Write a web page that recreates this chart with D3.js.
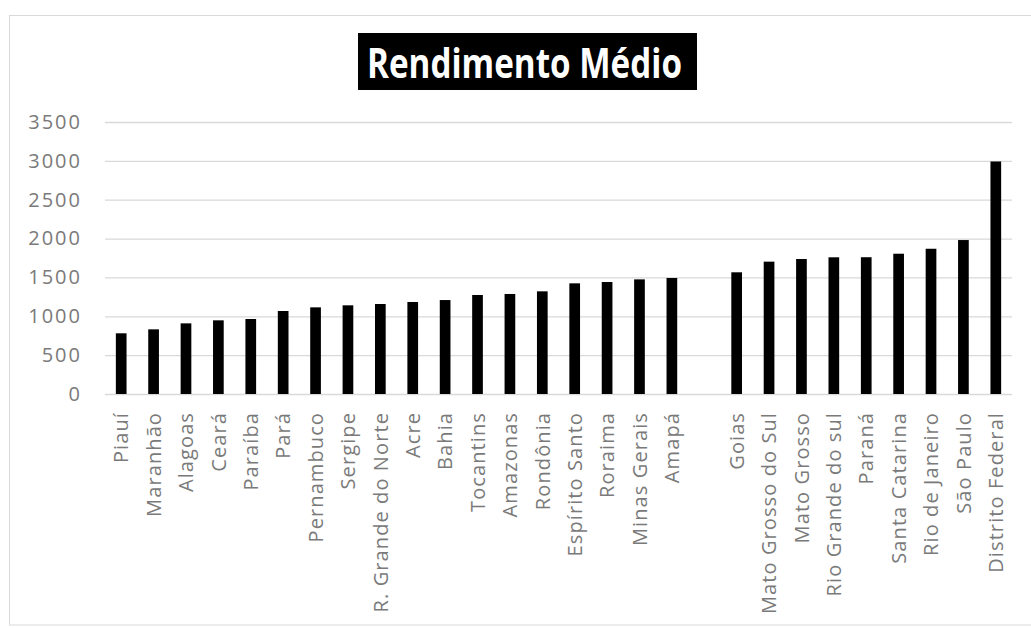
<!DOCTYPE html>
<html>
<head>
<meta charset="utf-8">
<script src="https://cdn.jsdelivr.net/npm/d3@7"></script>
<style>
  body{margin:0;background:#fff;}
  svg{display:block;}
</style>
</head>
<body>
<main></main>
<script>
// states in chart order, "" marks the gap between the two groups
const states=["Piauí","Maranhão","Alagoas","Ceará","Paraíba","Pará","Pernambuco","Sergipe",
  "R. Grande do Norte","Acre","Bahia","Tocantins","Amazonas","Rondônia","Espírito Santo",
  "Roraima","Minas Gerais","Amapá","","Goias","Mato Grosso do Sul","Mato Grosso",
  "Rio Grande do sul","Paraná","Santa Catarina","Rio de Janeiro","São Paulo","Distrito Federal"];
const rendimento=[781,832,909,948,965,1068,1115,1141,1158,1184,1209,1274,1287,1321,1424,
  1441,1475,1493,null,1566,1703,1737,1759,1760,1805,1869,1981,2992];
const yTicks=[0,500,1000,1500,2000,2500,3000,3500];
const title="Rendimento Médio";

const w=1031, h=628;
const plotLeft=105, plotRight=1012, plotTop=122, plotBottom=394;

const svg=d3.select("main").append("svg")
  .attr("width",w).attr("height",h);

// outer frame
svg.append("rect")
   .attr("x",9.5).attr("y",15.5)
   .attr("width",w+5).attr("height",625-15.5)
   .attr("fill","none").attr("stroke","#d9d9d9");

const data=states.map((s,i)=>({key:i,name:s,value:rendimento[i]}));

const xScale=d3.scaleBand()
  .domain(data.map(d=>d.key))
  .range([plotLeft,plotRight])
  .paddingInner(0.67)
  .paddingOuter(0.335);
const yScale=d3.scaleLinear()
  .domain([0,3500])
  .range([plotBottom,plotTop]);

// gridlines
const yAxis=d3.axisLeft(yScale)
  .tickValues(yTicks)
  .tickSize(-(plotRight-plotLeft))
  .tickPadding(23)
  .tickFormat(d3.format("d"));
const gy=svg.append("g")
  .attr("id","y-axis")
  .attr("transform","translate("+plotLeft+",0)")
  .call(yAxis);
gy.select(".domain").remove();
gy.selectAll("line").attr("stroke","#d9d9d9").attr("stroke-width",1.3);
gy.selectAll("text")
  .attr("fill","#7a7a7a")
  .style("font-family","'Open Sans'")
  .style("font-size","20px")
  .attr("letter-spacing","2");

// bars
svg.selectAll(".bar")
   .data(data.filter(d=>d.value!=null))
   .enter()
   .append("rect")
   .attr("class","bar")
   .attr("x",d=>xScale(d.key))
   .attr("width",xScale.bandwidth())
   .attr("y",d=>yScale(d.value))
   .attr("height",d=>plotBottom-yScale(d.value))
   .attr("fill","#000");

// category labels
const xAxis=d3.axisBottom(xScale)
  .tickSize(0)
  .tickFormat(k=>states[k]);
const gx=svg.append("g")
  .attr("id","x-axis")
  .attr("transform","translate(0,"+plotBottom+")")
  .call(xAxis);
gx.select(".domain").remove();
gx.selectAll("text")
  .attr("transform","rotate(-90)")
  .attr("text-anchor","end")
  .attr("x",-18)
  .attr("y",0)
  .attr("dy","0.36em")
  .attr("letter-spacing","1.1")
  .attr("fill","#7a7a7a")
  .style("font-family","'Open Sans'")
  .style("font-size","20px");

// title box
const tg=svg.append("g");
tg.append("rect")
  .attr("x",358).attr("y",33)
  .attr("width",339).attr("height",57)
  .attr("fill","#000");
tg.append("text")
  .attr("x",367).attr("y",78)
  .attr("textLength",315)
  .attr("lengthAdjust","spacingAndGlyphs")
  .attr("fill","#fff")
  .style("font-family","'Open Sans'")
  .style("font-weight","bold")
  .style("font-size","42px")
  .text(title);
</script>
</body>
</html>
